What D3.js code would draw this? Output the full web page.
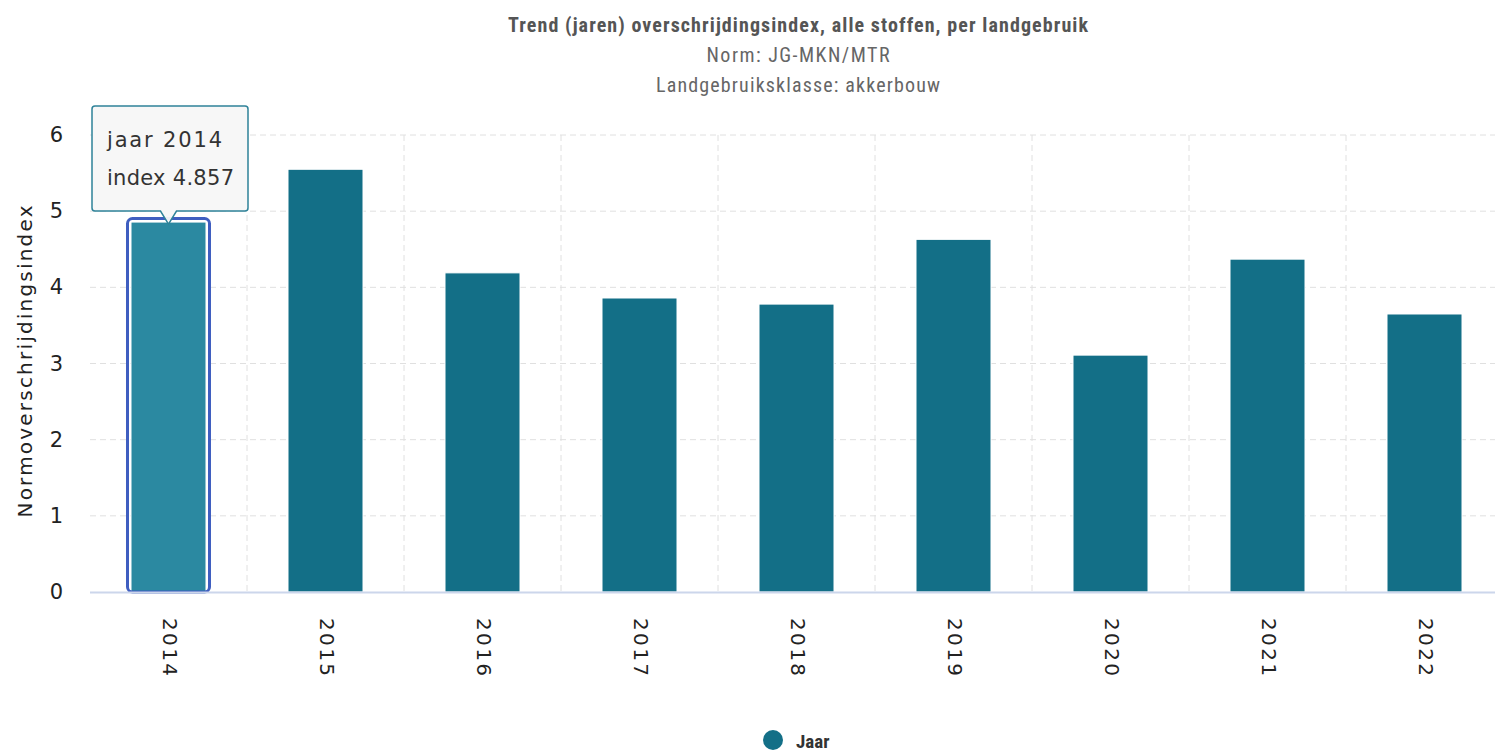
<!DOCTYPE html>
<html>
<head>
<meta charset="utf-8">
<script src="https://cdn.jsdelivr.net/npm/d3@7"></script>
<style>
  body { margin: 0; background: #fff; }
  .cond { font-family: "Roboto Condensed", Roboto, sans-serif; font-stretch: condensed; }
  .dv { font-family: "DejaVu Sans", Verdana, sans-serif; }
</style>
</head>
<body>
<div id="chart"></div>
<script>
var years = ["2014", "2015", "2016", "2017", "2018", "2019", "2020", "2021", "2022"];
var index = [4.857, 5.55, 4.19, 3.86, 3.78, 4.63, 3.11, 4.37, 3.65];
var yTicks = [0, 1, 2, 3, 4, 5, 6];

(function () {
  var W = 1495, H = 753;
  var plotL = 90, plotR = 1503, plotT = 135, plotB = 592;

  var svg = d3.select("#chart").append("svg")
    .attr("width", W).attr("height", H);

  var x = d3.scaleBand().domain(years).range([plotL, plotR]);
  var y = d3.scaleLinear().domain([0, 6]).range([plotB, plotT]);

  // grid
  svg.append("g").selectAll("line")
    .data(yTicks.filter(function (d) { return d > 0; }))
    .enter().append("line")
    .attr("x1", plotL).attr("x2", plotR)
    .attr("y1", function (d) { return y(d); }).attr("y2", function (d) { return y(d); })
    .attr("stroke", "#e0e0e0").attr("stroke-dasharray", "6,4");

  svg.append("g").selectAll("line")
    .data(years.slice(1))
    .enter().append("line")
    .attr("x1", function (d) { return x(d); }).attr("x2", function (d) { return x(d); })
    .attr("y1", plotT).attr("y2", plotB)
    .attr("stroke", "#e0e0e0").attr("stroke-dasharray", "6,4");

  // bars
  var bw = 75;
  svg.append("g").selectAll("rect")
    .data(years)
    .enter().append("rect")
    .attr("x", function (d) { return x(d) + x.bandwidth() / 2 - bw / 2; })
    .attr("y", function (d, i) { return y(index[i]); })
    .attr("width", bw)
    .attr("height", function (d, i) { return plotB - y(index[i]); })
    .attr("fill", function (d, i) { return i == 0 ? "#2b89a1" : "#136f87"; })
    .attr("stroke", "#fff").attr("stroke-width", 1);

  // hover halo on 2014
  var hx = x(years[0]) + x.bandwidth() / 2;
  svg.append("rect")
    .attr("x", hx - bw / 2 - 3.5).attr("y", y(index[0]) - 3.5)
    .attr("width", bw + 7).attr("height", plotB - y(index[0]) + 3.5)
    .attr("rx", 5)
    .attr("fill", "none").attr("stroke", "#3f5ec0").attr("stroke-width", 3);

  // x axis
  svg.append("line")
    .attr("x1", plotL).attr("x2", plotR).attr("y1", plotB + 0.5).attr("y2", plotB + 0.5)
    .attr("stroke", "#ccd6eb").attr("stroke-width", 2);

  svg.append("g").selectAll("text")
    .data(years)
    .enter().append("text").attr("class", "dv")
    .attr("transform", function (d) {
      return "translate(" + (x(d) + x.bandwidth() / 2 - 6) + "," + 618 + ") rotate(90)";
    })
    .attr("font-size", 20).attr("fill", "#222")
    .attr("textLength", 58).attr("lengthAdjust", "spacing")
    .text(function (d) { return d; });

  // y axis labels
  svg.append("g").selectAll("text")
    .data(yTicks)
    .enter().append("text").attr("class", "dv")
    .attr("x", 63).attr("y", function (d) { return y(d) + 7; })
    .attr("text-anchor", "end")
    .attr("font-size", 21).attr("fill", "#222")
    .text(function (d) { return d; });

  svg.append("text").attr("class", "dv")
    .attr("transform", "translate(32," + (y(3) - 2) + ") rotate(-90)")
    .attr("text-anchor", "middle")
    .attr("font-size", 20).attr("fill", "#222")
    .attr("textLength", 312).attr("lengthAdjust", "spacing")
    .text("Normoverschrijdingsindex");

  // titles
  var cx = 798;
  svg.append("text").attr("class", "cond")
    .attr("x", cx).attr("y", 32).attr("text-anchor", "middle")
    .attr("font-size", 20).attr("font-weight", "bold").attr("fill", "#555")
    .attr("textLength", 580).attr("lengthAdjust", "spacing")
    .text("Trend (jaren) overschrijdingsindex, alle stoffen, per landgebruik");
  svg.append("text").attr("class", "cond")
    .attr("x", cx).attr("y", 62).attr("text-anchor", "middle")
    .attr("font-size", 20).attr("fill", "#666")
    .attr("textLength", 183).attr("lengthAdjust", "spacing")
    .text("Norm: JG-MKN/MTR");
  svg.append("text").attr("class", "cond")
    .attr("x", cx).attr("y", 92).attr("text-anchor", "middle")
    .attr("font-size", 20).attr("fill", "#666")
    .attr("textLength", 284).attr("lengthAdjust", "spacing")
    .text("Landgebruiksklasse: akkerbouw");

  // legend
  svg.append("circle").attr("cx", 773).attr("cy", 740).attr("r", 10).attr("fill", "#136f87");
  svg.append("text").attr("class", "cond")
    .attr("x", 796).attr("y", 748)
    .attr("font-size", 19).attr("font-weight", "bold").attr("fill", "#333")
    .text("Jaar");

  // tooltip
  var tl = 92, tr = 248, tt = 106, tb = 211, ty = y(index[0]);
  var tip = svg.append("g");
  tip.append("path")
    .attr("d", "M" + (tl + 3) + "," + tt + " L" + (tr - 3) + "," + tt +
      " Q" + tr + "," + tt + " " + tr + "," + (tt + 3) +
      " L" + tr + "," + (tb - 3) + " Q" + tr + "," + tb + " " + (tr - 3) + "," + tb +
      " L" + (hx + 8) + "," + tb + " L" + hx + "," + (ty + 2) + " L" + (hx - 8) + "," + tb +
      " L" + (tl + 3) + "," + tb + " Q" + tl + "," + tb + " " + tl + "," + (tb - 3) +
      " L" + tl + "," + (tt + 3) + " Q" + tl + "," + tt + " " + (tl + 3) + "," + tt + " Z")
    .attr("fill", "#f7f7f7").attr("fill-opacity", 0.95)
    .attr("stroke", "#2f8399").attr("stroke-width", 1.5);
  tip.append("text").attr("class", "dv").attr("x", 107).attr("y", 147)
    .attr("font-size", 21).attr("fill", "#333")
    .attr("textLength", 115).attr("lengthAdjust", "spacing")
    .text("jaar 2014");
  tip.append("text").attr("class", "dv").attr("x", 107).attr("y", 185)
    .attr("font-size", 21).attr("fill", "#333")
    .attr("textLength", 127).attr("lengthAdjust", "spacing")
    .text("index " + index[0]);
})();
</script>
</body>
</html>
